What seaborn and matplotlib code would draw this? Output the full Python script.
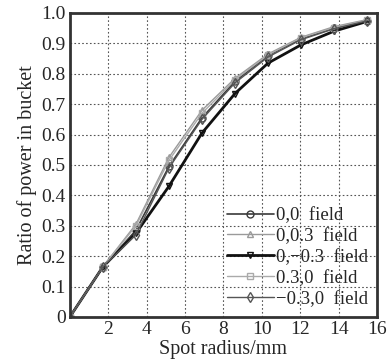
import matplotlib
matplotlib.use("Agg")
import matplotlib.pyplot as plt
import seaborn as sns
import pandas as pd
from matplotlib.ticker import FixedLocator, FuncFormatter

sns.set_style("white")
plt.rcParams['font.family'] = ['Liberation Serif', 'DejaVu Serif']

radius = [0, 1.72, 3.44, 5.16, 6.88, 8.6, 10.32, 12.04, 13.76, 15.48]
series_names = ["0,0  field", "0,0.3  field", "0,\u22120.3  field", "0.3,0  field", "\u22120.3,0  field"]
v_00 = [0, 0.165, 0.285, 0.495, 0.655, 0.775, 0.860, 0.915, 0.950, 0.975]
v_003 = [0, 0.165, 0.305, 0.525, 0.680, 0.785, 0.865, 0.920, 0.955, 0.978]
v_0m03 = [0, 0.165, 0.275, 0.430, 0.605, 0.735, 0.835, 0.895, 0.940, 0.972]
v_030 = [0, 0.165, 0.300, 0.515, 0.670, 0.780, 0.862, 0.918, 0.952, 0.976]
v_m030 = [0, 0.165, 0.270, 0.490, 0.650, 0.770, 0.855, 0.912, 0.948, 0.974]
values = [v_00, v_003, v_0m03, v_030, v_m030]

colors = ["#3a3a3a", "#9a9a9a", "#111111", "#aaaaaa", "#555555"]
markers = ["o", "^", "v", "s", "d"]
widths = [1.2, 1.0, 2.0, 1.0, 1.0]

fig = plt.figure(figsize=(3.88, 3.59), dpi=100)
ax = fig.add_axes([0.180, 0.117, 0.792, 0.847])

for name, vals, c, m, w in zip(series_names, values, colors, markers, widths):
    df = pd.DataFrame({"r": radius, "p": vals})
    sns.lineplot(data=df, x="r", y="p", ax=ax, color=c, marker=m, markersize=5,
                 markerfacecolor="none", markeredgecolor=c, markeredgewidth=1.0,
                 linewidth=w, label=name)

ax.set_xlim(0, 16)
ax.set_ylim(0, 1.0)
ax.xaxis.set_major_locator(FixedLocator([2, 4, 6, 8, 10, 12, 14, 16]))
ax.yaxis.set_major_locator(FixedLocator([0, 0.1, 0.2, 0.3, 0.4, 0.5, 0.6, 0.7, 0.8, 0.9, 1.0]))
ax.yaxis.set_major_formatter(FuncFormatter(lambda v, p: "0" if v == 0 else f"{v:.1f}"))
ax.grid(True, linestyle=(0, (1.5, 2)), color="#555555", linewidth=0.8)
ax.tick_params(direction="in", labelsize=14, length=4, width=1.2, color="#333333", pad=3)
for s in ax.spines.values():
    s.set_linewidth(2.0)
    s.set_color("#333333")
ax.set_xlabel("Spot radius/mm", fontsize=14.5, labelpad=1)
ax.set_ylabel("Ratio of power in bucket", fontsize=14.5, labelpad=3)
leg = ax.legend(loc="lower right", frameon=False, fontsize=13.5, handlelength=2.5,
                handletextpad=0.1, labelspacing=0.2, borderaxespad=0.1)
fig.savefig("out.png", dpi=100)
